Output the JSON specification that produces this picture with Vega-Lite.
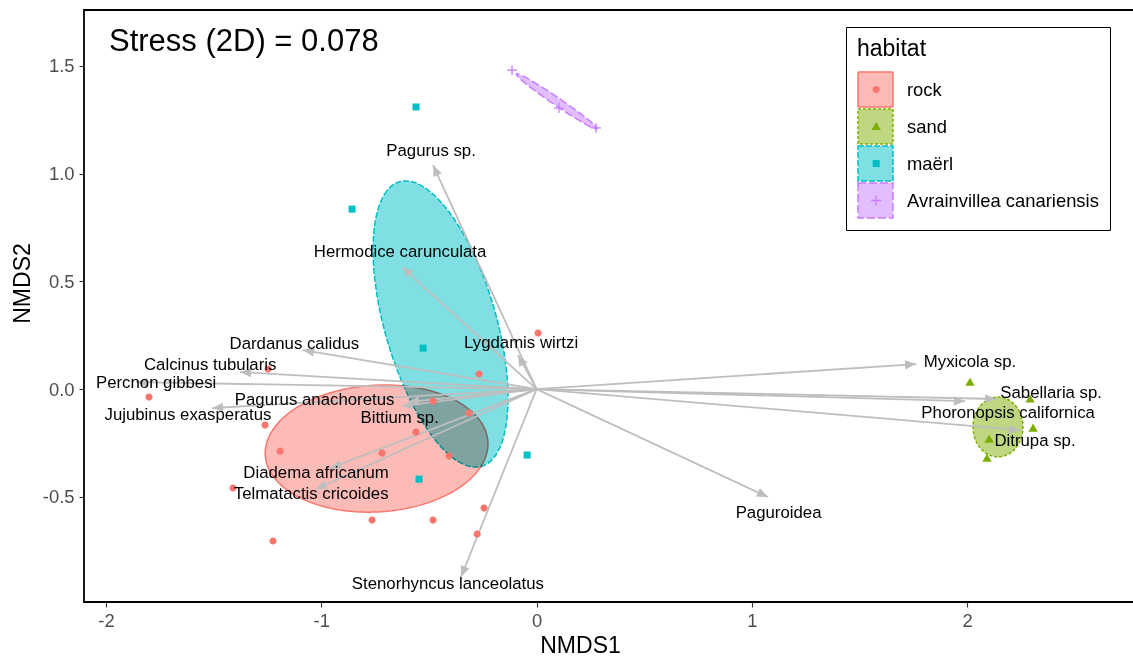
{
  "$schema": "https://vega.github.io/schema/vega-lite/v6.json",
  "width": 1052,
  "height": 592,
  "autosize": {"type": "none"},
  "padding": {"left": 84, "top": 10, "right": -3, "bottom": 54},
  "title": {"text": "Stress (2D) = 0.078", "anchor": "start", "frame": "group", "orient": "top", "offset": -41, "dy": 31, "baseline": "alphabetic", "dx": 25, "fontSize": 31, "fontWeight": "normal", "font": "Liberation Sans", "color": "black"},
  "config": {
    "font": "Liberation Sans",
    "view": {"stroke": "black", "strokeWidth": 1.8},
    "axis": {"grid": false, "domain": false, "labelFontSize": 18.4, "labelColor": "#4D4D4D", "tickColor": "#333333", "tickSize": 5, "tickWidth": 1.1, "titleFontSize": 23, "titleFontWeight": "normal", "titleColor": "black", "labelFont": "Liberation Sans", "titleFont": "Liberation Sans"},
    "axisX": {"titleX": 496, "titleY": 50, "titleBaseline": "alphabetic", "labelPadding": 4},
    "axisY": {"titleX": -62, "titleY": 273, "titleBaseline": "middle", "titleAngle": 270, "labelPadding": 5}
  },
  "datasets": {
    "pts": [
      {"habitat": "rock", "x": -1.800, "y": -0.037},
      {"habitat": "rock", "x": -1.247, "y": 0.093},
      {"habitat": "rock", "x": -1.261, "y": -0.167},
      {"habitat": "rock", "x": -1.191, "y": -0.288},
      {"habitat": "rock", "x": -1.410, "y": -0.459},
      {"habitat": "rock", "x": -1.224, "y": -0.705},
      {"habitat": "rock", "x": -0.764, "y": -0.608},
      {"habitat": "rock", "x": -0.481, "y": -0.608},
      {"habitat": "rock", "x": -0.244, "y": -0.552},
      {"habitat": "rock", "x": -0.276, "y": -0.673},
      {"habitat": "rock", "x": -0.718, "y": -0.297},
      {"habitat": "rock", "x": -0.560, "y": -0.200},
      {"habitat": "rock", "x": -0.481, "y": -0.056},
      {"habitat": "rock", "x": -0.406, "y": -0.311},
      {"habitat": "rock", "x": -0.314, "y": -0.111},
      {"habitat": "rock", "x": -0.267, "y": 0.070},
      {"habitat": "rock", "x": 0.007, "y": 0.260},
      {"habitat": "sand", "x": 2.013, "y": 0.032},
      {"habitat": "sand", "x": 2.292, "y": -0.046},
      {"habitat": "sand", "x": 2.306, "y": -0.181},
      {"habitat": "sand", "x": 2.102, "y": -0.232},
      {"habitat": "sand", "x": 2.092, "y": -0.320},
      {"habitat": "maërl", "x": -0.560, "y": 1.309},
      {"habitat": "maërl", "x": -0.857, "y": 0.835},
      {"habitat": "maërl", "x": -0.527, "y": 0.190},
      {"habitat": "maërl", "x": -0.044, "y": -0.306},
      {"habitat": "maërl", "x": -0.546, "y": -0.418},
      {"habitat": "Avrainvillea canariensis", "x": -0.114, "y": 1.480},
      {"habitat": "Avrainvillea canariensis", "x": 0.104, "y": 1.304},
      {"habitat": "Avrainvillea canariensis", "x": 0.276, "y": 1.212}
    ],
    "ell": [
      {"hab": "rock", "i": 0, "x": -0.2260, "y": -0.2444},
      {"hab": "rock", "i": 1, "x": -0.2482, "y": -0.1696},
      {"hab": "rock", "i": 2, "x": -0.3043, "y": -0.1019},
      {"hab": "rock", "i": 3, "x": -0.3901, "y": -0.0462},
      {"hab": "rock", "i": 4, "x": -0.5000, "y": -0.0061},
      {"hab": "rock", "i": 5, "x": -0.6265, "y": 0.0156},
      {"hab": "rock", "i": 6, "x": -0.7609, "y": 0.0174},
      {"hab": "rock", "i": 7, "x": -0.8941, "y": -0.0008},
      {"hab": "rock", "i": 8, "x": -1.0170, "y": -0.0377},
      {"hab": "rock", "i": 9, "x": -1.1213, "y": -0.0908},
      {"hab": "rock", "i": 10, "x": -1.1997, "y": -0.1567},
      {"hab": "rock", "i": 11, "x": -1.2470, "y": -0.2306},
      {"hab": "rock", "i": 12, "x": -1.2600, "y": -0.3076},
      {"hab": "rock", "i": 13, "x": -1.2378, "y": -0.3824},
      {"hab": "rock", "i": 14, "x": -1.1817, "y": -0.4501},
      {"hab": "rock", "i": 15, "x": -1.0959, "y": -0.5058},
      {"hab": "rock", "i": 16, "x": -0.9860, "y": -0.5459},
      {"hab": "rock", "i": 17, "x": -0.8595, "y": -0.5676},
      {"hab": "rock", "i": 18, "x": -0.7251, "y": -0.5694},
      {"hab": "rock", "i": 19, "x": -0.5919, "y": -0.5512},
      {"hab": "rock", "i": 20, "x": -0.4690, "y": -0.5143},
      {"hab": "rock", "i": 21, "x": -0.3647, "y": -0.4612},
      {"hab": "rock", "i": 22, "x": -0.2863, "y": -0.3953},
      {"hab": "rock", "i": 23, "x": -0.2390, "y": -0.3214},
      {"hab": "sand", "i": 0, "x": 2.2590, "y": -0.1760},
      {"hab": "sand", "i": 1, "x": 2.2435, "y": -0.1065},
      {"hab": "sand", "i": 2, "x": 2.2010, "y": -0.0556},
      {"hab": "sand", "i": 3, "x": 2.1430, "y": -0.0370},
      {"hab": "sand", "i": 4, "x": 2.0850, "y": -0.0556},
      {"hab": "sand", "i": 5, "x": 2.0425, "y": -0.1065},
      {"hab": "sand", "i": 6, "x": 2.0270, "y": -0.1760},
      {"hab": "sand", "i": 7, "x": 2.0425, "y": -0.2455},
      {"hab": "sand", "i": 8, "x": 2.0850, "y": -0.2964},
      {"hab": "sand", "i": 9, "x": 2.1430, "y": -0.3150},
      {"hab": "sand", "i": 10, "x": 2.2010, "y": -0.2964},
      {"hab": "sand", "i": 11, "x": 2.2435, "y": -0.2455},
      {"hab": "maërl", "i": 0, "x": -0.6365, "y": 0.9621},
      {"hab": "maërl", "i": 1, "x": -0.6944, "y": 0.9210},
      {"hab": "maërl", "i": 2, "x": -0.7354, "y": 0.8378},
      {"hab": "maërl", "i": 3, "x": -0.7566, "y": 0.7180},
      {"hab": "maërl", "i": 4, "x": -0.7568, "y": 0.5699},
      {"hab": "maërl", "i": 5, "x": -0.7356, "y": 0.4034},
      {"hab": "maërl", "i": 6, "x": -0.6948, "y": 0.2302},
      {"hab": "maërl", "i": 7, "x": -0.6370, "y": 0.0618},
      {"hab": "maërl", "i": 8, "x": -0.5662, "y": -0.0903},
      {"hab": "maërl", "i": 9, "x": -0.4872, "y": -0.2156},
      {"hab": "maërl", "i": 10, "x": -0.4054, "y": -0.3056},
      {"hab": "maërl", "i": 11, "x": -0.3264, "y": -0.3542},
      {"hab": "maërl", "i": 12, "x": -0.2555, "y": -0.3581},
      {"hab": "maërl", "i": 13, "x": -0.1976, "y": -0.3170},
      {"hab": "maërl", "i": 14, "x": -0.1566, "y": -0.2338},
      {"hab": "maërl", "i": 15, "x": -0.1354, "y": -0.1140},
      {"hab": "maërl", "i": 16, "x": -0.1352, "y": 0.0341},
      {"hab": "maërl", "i": 17, "x": -0.1564, "y": 0.2006},
      {"hab": "maërl", "i": 18, "x": -0.1972, "y": 0.3738},
      {"hab": "maërl", "i": 19, "x": -0.2550, "y": 0.5422},
      {"hab": "maërl", "i": 20, "x": -0.3258, "y": 0.6943},
      {"hab": "maërl", "i": 21, "x": -0.4048, "y": 0.8196},
      {"hab": "maërl", "i": 22, "x": -0.4866, "y": 0.9096},
      {"hab": "maërl", "i": 23, "x": -0.5656, "y": 0.9582},
      {"hab": "Avrainvillea canariensis", "i": 0, "x": 0.2808, "y": 1.2074},
      {"hab": "Avrainvillea canariensis", "i": 1, "x": 0.2607, "y": 1.2320},
      {"hab": "Avrainvillea canariensis", "i": 2, "x": 0.1956, "y": 1.2841},
      {"hab": "Avrainvillea canariensis", "i": 3, "x": 0.1031, "y": 1.3499},
      {"hab": "Avrainvillea canariensis", "i": 4, "x": 0.0078, "y": 1.4117},
      {"hab": "Avrainvillea canariensis", "i": 5, "x": -0.0645, "y": 1.4530},
      {"hab": "Avrainvillea canariensis", "i": 6, "x": -0.0948, "y": 1.4626},
      {"hab": "Avrainvillea canariensis", "i": 7, "x": -0.0747, "y": 1.4380},
      {"hab": "Avrainvillea canariensis", "i": 8, "x": -0.0096, "y": 1.3859},
      {"hab": "Avrainvillea canariensis", "i": 9, "x": 0.0829, "y": 1.3201},
      {"hab": "Avrainvillea canariensis", "i": 10, "x": 0.1782, "y": 1.2583},
      {"hab": "Avrainvillea canariensis", "i": 11, "x": 0.2505, "y": 1.2170}
    ],
    "arr": [
      {"species": "Pagurus sp.", "x": -0.481, "y": 1.039, "lx": -0.490, "ly": 1.106},
      {"species": "Hermodice carunculata", "x": -0.625, "y": 0.566, "lx": -0.634, "ly": 0.637},
      {"species": "Dardanus calidus", "x": -1.085, "y": 0.181, "lx": -1.125, "ly": 0.209},
      {"species": "Calcinus tubularis", "x": -1.377, "y": 0.079, "lx": -1.516, "ly": 0.111},
      {"species": "Percnon gibbesi", "x": -1.860, "y": 0.032, "lx": -1.767, "ly": 0.026},
      {"species": "Jujubinus exasperatus", "x": -1.507, "y": -0.088, "lx": -1.619, "ly": -0.121},
      {"species": "Pagurus anachoretus", "x": -0.625, "y": -0.079, "lx": -1.031, "ly": -0.051},
      {"species": "Bittium sp.", "x": -0.597, "y": -0.060, "lx": -0.636, "ly": -0.136},
      {"species": "Lygdamis wirtzi", "x": -0.086, "y": 0.158, "lx": -0.072, "ly": 0.215},
      {"species": "Diadema africanum", "x": -0.959, "y": -0.367, "lx": -1.024, "ly": -0.391},
      {"species": "Telmatactis cricoides", "x": -1.024, "y": -0.464, "lx": -1.047, "ly": -0.487},
      {"species": "Stenorhyncus lanceolatus", "x": -0.351, "y": -0.872, "lx": -0.412, "ly": -0.906},
      {"species": "Paguroidea", "x": 1.075, "y": -0.501, "lx": 1.124, "ly": -0.577},
      {"species": "Myxicola sp.", "x": 1.763, "y": 0.116, "lx": 2.013, "ly": 0.127},
      {"species": "Sabellaria sp.", "x": 2.134, "y": -0.046, "lx": 2.390, "ly": -0.017},
      {"species": "Phoronopsis californica", "x": 1.990, "y": -0.056, "lx": 2.190, "ly": -0.110},
      {"species": "Ditrupa sp.", "x": 2.246, "y": -0.190, "lx": 2.315, "ly": -0.240}
    ]
  },
  "layer": [
    {
      "data": {"name": "ell"},
      "mark": {"type": "line", "interpolate": "cardinal-closed", "fillOpacity": 1, "strokeWidth": 1.5, "blend": "multiply"},
      "encoding": {
        "x": {"field": "x", "type": "quantitative", "scale": {"domain": [-2.102, 2.784], "nice": false, "zero": false},
          "axis": {"title": "NMDS1", "values": [-2, -1, 0, 1, 2], "labelExpr": "(datum.value < 0 ? '-' : '') + format(abs(datum.value), 'd')"}},
        "y": {"field": "y", "type": "quantitative", "scale": {"domain": [-0.988, 1.759], "nice": false, "zero": false},
          "axis": {"title": "NMDS2", "values": [-0.5, 0, 0.5, 1, 1.5], "labelExpr": "(datum.value < 0 ? '-' : '') + format(abs(datum.value), '.1f')"}},
        "order": {"field": "i", "type": "quantitative"},
        "fill": {"field": "hab", "type": "nominal", "sort": {"field": "y", "op": "mean"}, "scale": {"range": ["#FCBBB6", "#BED780", "#80DFE2", "#E3BEFF"]},
          "legend": {"title": "habitat", "orient": "none", "legendX": 762, "legendY": 17, "zindex": 1, "symbolType": "square", "symbolSize": 1225, "symbolStrokeWidth": 1.5, "clipHeight": 37, "rowPadding": 0, "padding": 11, "labelFontSize": 18.4, "labelColor": "black", "labelOffset": 13, "labelLimit": 400, "titleFontSize": 23, "titleFontWeight": "normal", "titleColor": "black", "titlePadding": 10, "strokeColor": "black"}},
        "stroke": {"field": "hab", "type": "nominal", "sort": {"field": "y", "op": "mean"}, "scale": {"range": ["#F8766D", "#7CAE00", "#00BFC4", "#C77CFF"]},
          "legend": {"title": "habitat", "orient": "none", "legendX": 762, "legendY": 17, "zindex": 1, "symbolType": "square", "symbolSize": 1225, "symbolStrokeWidth": 1.5, "clipHeight": 37, "rowPadding": 0, "padding": 11, "labelFontSize": 18.4, "labelColor": "black", "labelOffset": 13, "labelLimit": 400, "titleFontSize": 23, "titleFontWeight": "normal", "titleColor": "black", "titlePadding": 10, "strokeColor": "black"}},
        "strokeDash": {"field": "hab", "type": "nominal", "sort": {"field": "y", "op": "mean"}, "scale": {"range": [[1, 0], [3, 2], [6, 2], [8, 3]]},
          "legend": {"title": "habitat", "orient": "none", "legendX": 762, "legendY": 17, "zindex": 1, "symbolType": "square", "symbolSize": 1225, "symbolStrokeWidth": 1.5, "clipHeight": 37, "rowPadding": 0, "padding": 11, "labelFontSize": 18.4, "labelColor": "black", "labelOffset": 13, "labelLimit": 400, "titleFontSize": 23, "titleFontWeight": "normal", "titleColor": "black", "titlePadding": 10, "strokeColor": "black"}}
      }
    },
    {
      "data": {"name": "arr"},
      "mark": {"type": "rule", "color": "#BEBEBE", "strokeWidth": 1.8},
      "encoding": {
        "x": {"field": "x", "type": "quantitative", "scale": {"domain": [-2.102, 2.784], "nice": false, "zero": false},
          "axis": {"title": "NMDS1", "values": [-2, -1, 0, 1, 2], "labelExpr": "(datum.value < 0 ? '-' : '') + format(abs(datum.value), 'd')"}},
        "y": {"field": "y", "type": "quantitative", "scale": {"domain": [-0.988, 1.759], "nice": false, "zero": false},
          "axis": {"title": "NMDS2", "values": [-0.5, 0, 0.5, 1, 1.5], "labelExpr": "(datum.value < 0 ? '-' : '') + format(abs(datum.value), '.1f')"}},
        "x2": {"datum": 0},
        "y2": {"datum": 0}
      }
    },
    {
      "data": {"name": "arr"},
      "transform": [{"calculate": "atan2(datum.x, datum.y) * 180 / PI", "as": "angle"}],
      "mark": {"type": "point", "shape": "M0,0L-0.42,1L0.42,1Z", "filled": true, "size": 484, "color": "#BEBEBE", "opacity": 1},
      "encoding": {
        "x": {"field": "x", "type": "quantitative", "scale": {"domain": [-2.102, 2.784], "nice": false, "zero": false},
          "axis": {"title": "NMDS1", "values": [-2, -1, 0, 1, 2], "labelExpr": "(datum.value < 0 ? '-' : '') + format(abs(datum.value), 'd')"}},
        "y": {"field": "y", "type": "quantitative", "scale": {"domain": [-0.988, 1.759], "nice": false, "zero": false},
          "axis": {"title": "NMDS2", "values": [-0.5, 0, 0.5, 1, 1.5], "labelExpr": "(datum.value < 0 ? '-' : '') + format(abs(datum.value), '.1f')"}},
        "angle": {"field": "angle", "type": "quantitative", "scale": {"domain": [-180, 180], "range": [-180, 180]}, "legend": null}
      }
    },
    {
      "data": {"name": "pts"},
      "mark": {"type": "point", "filled": true, "size": 100, "opacity": 1},
      "encoding": {
        "x": {"field": "x", "type": "quantitative", "scale": {"domain": [-2.102, 2.784], "nice": false, "zero": false},
          "axis": {"title": "NMDS1", "values": [-2, -1, 0, 1, 2], "labelExpr": "(datum.value < 0 ? '-' : '') + format(abs(datum.value), 'd')"}},
        "y": {"field": "y", "type": "quantitative", "scale": {"domain": [-0.988, 1.759], "nice": false, "zero": false},
          "axis": {"title": "NMDS2", "values": [-0.5, 0, 0.5, 1, 1.5], "labelExpr": "(datum.value < 0 ? '-' : '') + format(abs(datum.value), '.1f')"}},
        "color": {"field": "habitat", "type": "nominal", "sort": {"field": "y", "op": "mean"}, "scale": {"range": ["#F8766D", "#7CAE00", "#00BFC4", "#C77CFF"]},
          "legend": {"title": "habitat", "orient": "none", "legendX": 762, "legendY": 17, "zindex": 2, "symbolOffset": 10, "symbolSize": 100, "clipHeight": 37, "rowPadding": 0, "padding": 11, "labelFontSize": 18.4, "labelOpacity": 0, "labelOffset": 13, "labelLimit": 400, "titleFontSize": 23, "titleFontWeight": "normal", "titleOpacity": 0, "titlePadding": 10}},
        "shape": {"field": "habitat", "type": "nominal", "sort": {"field": "y", "op": "mean"},
          "scale": {"range": ["M-0.72,0A0.72,0.72,0,1,0,0.72,0A0.72,0.72,0,1,0,-0.72,0Z", "M0,-0.9L0.93,0.72L-0.93,0.72Z", "M-0.7,-0.7L0.7,-0.7L0.7,0.7L-0.7,0.7Z", "M-1,-0.13L-0.13,-0.13L-0.13,-1L0.13,-1L0.13,-0.13L1,-0.13L1,0.13L0.13,0.13L0.13,1L-0.13,1L-0.13,0.13L-1,0.13Z"]},
          "legend": {"title": "habitat", "orient": "none", "legendX": 762, "legendY": 17, "zindex": 2, "symbolOffset": 10, "symbolSize": 100, "clipHeight": 37, "rowPadding": 0, "padding": 11, "labelFontSize": 18.4, "labelOpacity": 0, "labelOffset": 13, "labelLimit": 400, "titleFontSize": 23, "titleFontWeight": "normal", "titleOpacity": 0, "titlePadding": 10}}
      }
    },
    {
      "data": {"name": "arr"},
      "mark": {"type": "text", "fontSize": 16.8, "color": "black", "align": "center", "baseline": "middle", "font": "Liberation Sans"},
      "encoding": {
        "x": {"field": "lx", "type": "quantitative", "scale": {"domain": [-2.102, 2.784], "nice": false, "zero": false},
          "axis": {"title": "NMDS1", "values": [-2, -1, 0, 1, 2], "labelExpr": "(datum.value < 0 ? '-' : '') + format(abs(datum.value), 'd')"}},
        "y": {"field": "ly", "type": "quantitative", "scale": {"domain": [-0.988, 1.759], "nice": false, "zero": false},
          "axis": {"title": "NMDS2", "values": [-0.5, 0, 0.5, 1, 1.5], "labelExpr": "(datum.value < 0 ? '-' : '') + format(abs(datum.value), '.1f')"}},
        "text": {"field": "species"}
      }
    }
  ]
}
